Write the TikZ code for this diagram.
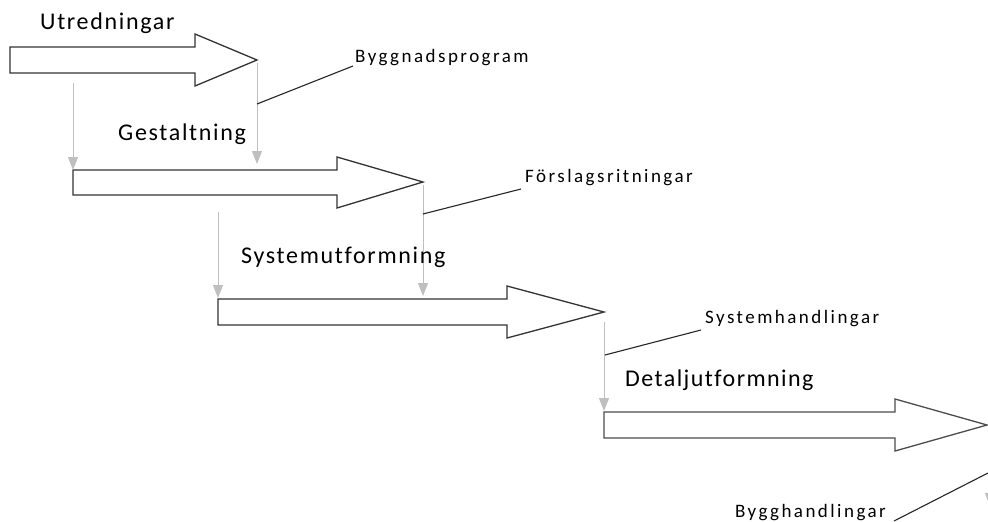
\documentclass[tikz,border=0pt]{standalone}
\usepackage{fontspec}
\setmainfont{Carlito}
\newfontfamily\bigfont[Ligatures={NoCommon,NoRequired,NoContextual}]{Carlito}
\newfontfamily\smallfont[LetterSpace=13,Ligatures={NoCommon,NoRequired,NoContextual}]{Carlito}
\usetikzlibrary{arrows.meta}
\begin{document}
\begin{tikzpicture}[x=1pt,y=-1pt,
  blockarrow/.style={draw=black!80,line width=1.3pt,fill=white,line join=miter},
  flow/.style={draw=black!25,line width=1pt,-{Triangle[length=13pt,width=10pt,fill=black!25]}},
  leader/.style={draw=black!85,line width=1.1pt},
  phase/.style={anchor=base west,inner sep=0pt,font=\bigfont\fontsize{24}{27}\selectfont\addfontfeature{LetterSpace=7}},
  doc/.style={anchor=base west,inner sep=0pt,font=\smallfont\fontsize{19}{21}\selectfont}]
\useasboundingbox (0,0) rectangle (988,522);
\fill[white] (0,0) rectangle (988,522);
% block arrows
\draw[blockarrow] (10,47) -- (195,47) -- (195,34) -- (257,60) -- (195,86) -- (195,73) -- (10,73) -- cycle;
\draw[blockarrow] (73,170) -- (337,170) -- (337,157) -- (423,182) -- (337,208) -- (337,195) -- (73,195) -- cycle;
\draw[blockarrow] (218,299) -- (507,299) -- (507,286) -- (604,312) -- (507,338) -- (507,325) -- (218,325) -- cycle;
\draw[blockarrow,draw=black!70] (604,412) -- (895,412) -- (895,399) -- (987,425) -- (895,451) -- (895,438) -- (604,438) -- cycle;
% coordinates
\coordinate (a1s) at (73,83);  \coordinate (a1e) at (73,170);
\coordinate (t1s) at (257,63); \coordinate (t1e) at (257,164);
\coordinate (a2s) at (218,212); \coordinate (a2e) at (218,298);
\coordinate (t2s) at (423,185); \coordinate (t2e) at (423,296);
\coordinate (t3s) at (604,322); \coordinate (t3e) at (604,411);
\coordinate (t4s) at (990,455); \coordinate (t4e) at (990,506);
\draw[flow] (a1s) -- (a1e);
\draw[flow] (t1s) -- (t1e);
\draw[flow] (a2s) -- (a2e);
\draw[flow] (t2s) -- (t2e);
\draw[flow] (t3s) -- (t3e);
\draw[flow] (t4s) -- (t4e);
% labels
\node[phase] (p1) at (40,29) {Utredningar};
\node[phase] (p2) at (118,140) {Gestaltning};
\node[phase] (p3) at (241,263) {Systemutformning};
\node[phase,font=\bigfont\fontsize{24}{27}\selectfont\addfontfeature{LetterSpace=6}] (p4) at (625,386) {Detaljutformning};
\node[doc] (d1) at (355,62) {Byggnadsprogram};
\node[doc] (d2) at (525,182) {Förslagsritningar};
\node[doc] (d3) at (705,323) {Systemhandlingar};
\node[doc,anchor=base east] (d4) at (886,517) {Bygghandlingar};
% leaders
\coordinate (l1) at (257,104);
\coordinate (l2) at (423,214);
\coordinate (l3) at (605,355);
\coordinate (l4) at (988,473);
\draw[leader] (l1) -- ([xshift=-2pt,yshift=-4pt]d1.base west);
\draw[leader] (l2) -- ([xshift=-4pt,yshift=-7pt]d2.base west);
\draw[leader] (l3) -- ([xshift=-4pt,yshift=-7pt]d3.base west);
\draw[leader] (l4) -- ([xshift=8pt,yshift=-4pt]d4.base east);
\end{tikzpicture}
\end{document}
